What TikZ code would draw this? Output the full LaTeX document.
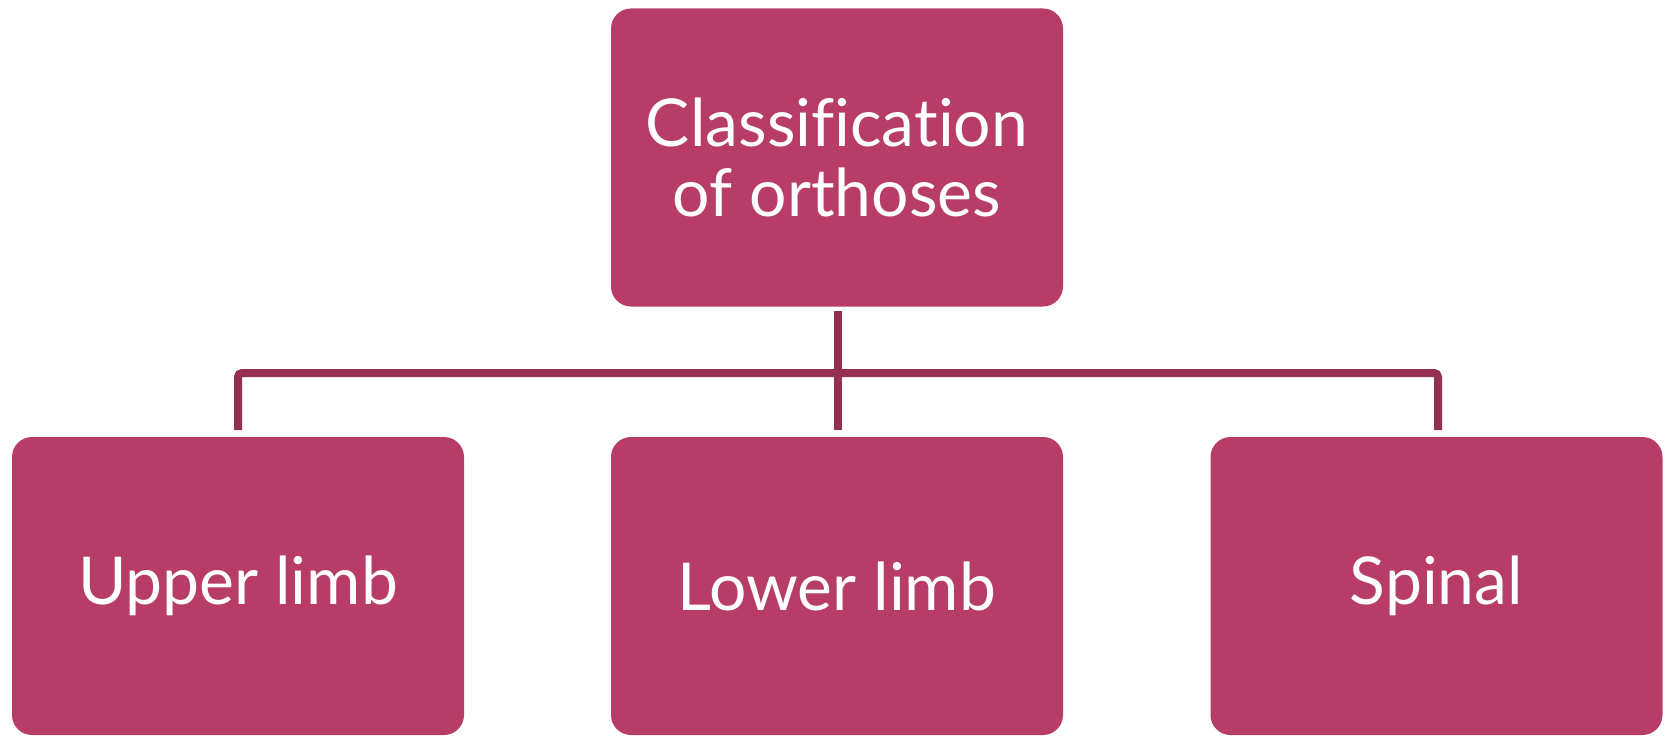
\documentclass[tikz,border=0pt]{standalone}
\usepackage{fontspec}
\setmainfont{Lato}[Ligatures={NoCommon}]
\definecolor{boxc}{HTML}{B83C68}
\definecolor{linec}{HTML}{952F50}
\begin{document}
\begin{tikzpicture}[x=0.5pt,y=-0.5pt,
  box/.style={fill=boxc, draw=none, rounded corners=10pt, minimum width=226pt, minimum height=149pt, inner sep=0pt, text=white, align=center, font=\fontsize{33}{35}\selectfont},
  conn/.style={draw=linec, line width=4pt}]
\useasboundingbox (0,0) rectangle (1664,738);
\node[box] (top) at (837,157.5) {Classification\\of orthoses};
\node[box] (up) at (238,586) {Upper limb};
\node[box] (low) at (837,586) {Lower limb};
\node[box] (sp) at (1436.5,586) {Spinal};
\coordinate (a) at (838,311);
\coordinate (b) at (838,430);
\coordinate (l) at (238,430);
\coordinate (r) at (1438,430);
\draw[conn, rounded corners=2pt] (l) -- (238,373) -- (1438,373) -- (r);
\draw[conn] (a) -- (b);
\end{tikzpicture}
\end{document}
